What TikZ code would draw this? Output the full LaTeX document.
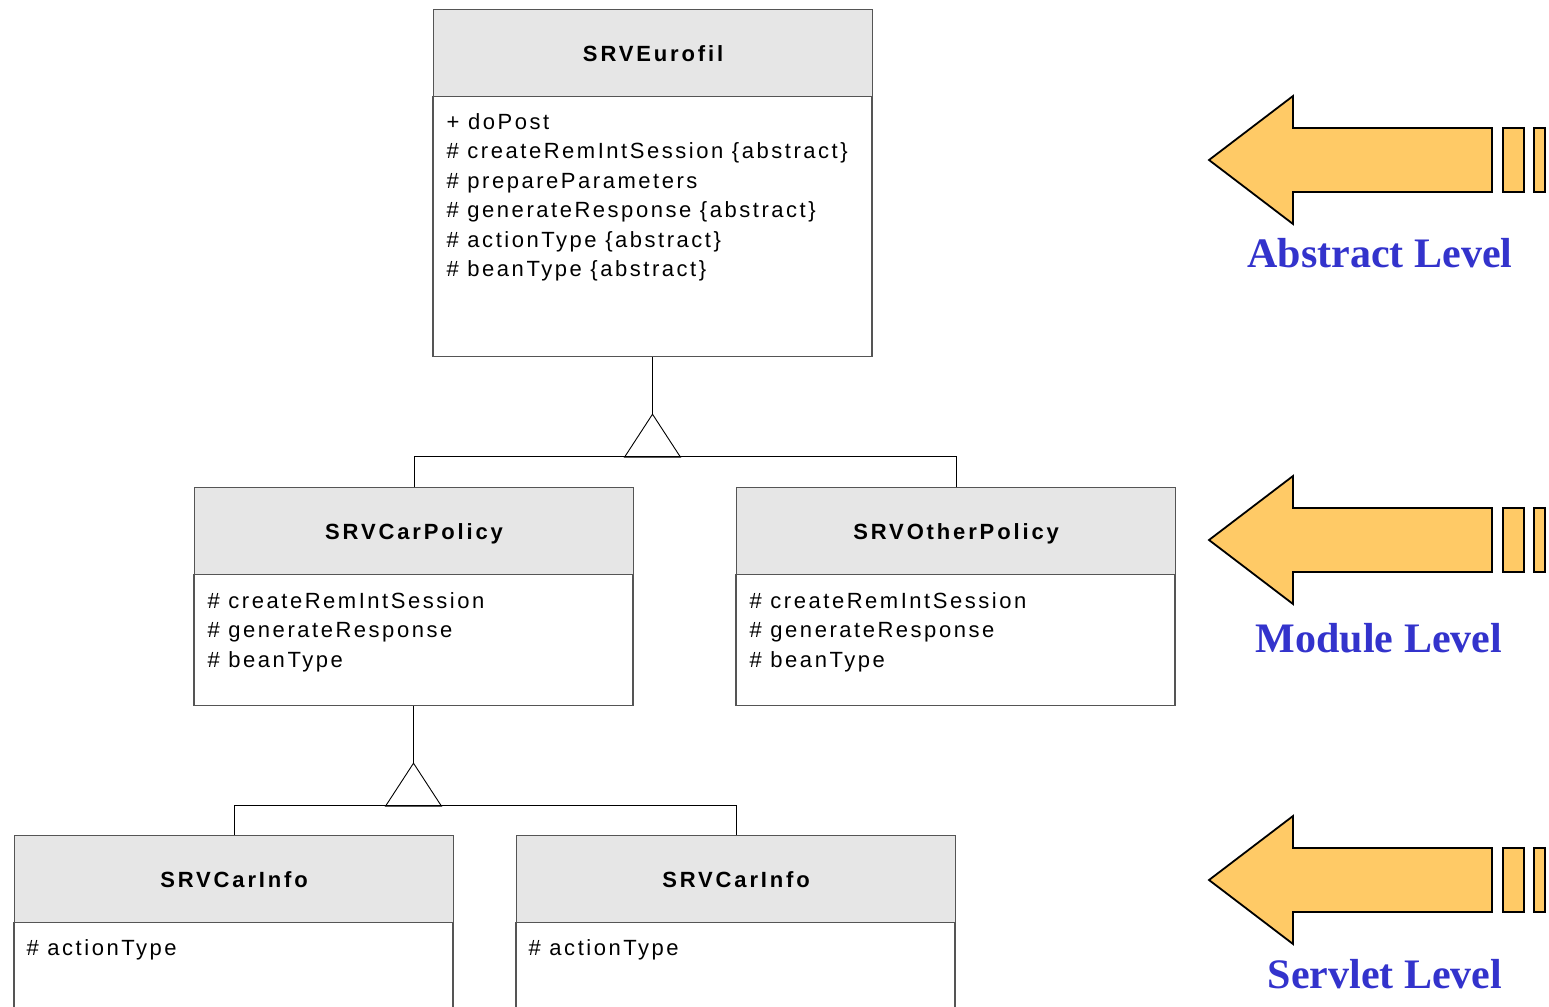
\documentclass[tikz,border=0pt]{standalone}
\usepackage{fontspec}
\newfontfamily\umlfont[LetterSpace=11.5, BoldFeatures={LetterSpace=13}]{Liberation Sans}
\newfontfamily\levelfont{Liberation Serif}
\usetikzlibrary{calc}
\definecolor{hdrgray}{HTML}{E6E6E6}
\definecolor{boxline}{HTML}{555555}
\definecolor{arrowyellow}{HTML}{FFCA66}
\definecolor{levelblue}{HTML}{3333CC}
\newcommand\levelarrow[1]{%
  \begin{scope}[shift={(0,#1)}]
    \draw[bigarrow] (1209,0) -- (1293,-64) -- (1293,-32) -- (1492,-32) -- (1492,32) -- (1293,32) -- (1293,64) -- cycle;
    \draw[bigarrow] (1503,-32) rectangle (1524,32);
    \draw[bigarrow] (1534,-32) rectangle (1545,32);
  \end{scope}}
\begin{document}
\begin{tikzpicture}[x=1pt,y=-1pt,
  hdr/.style={draw=boxline, line width=1.2pt, fill=hdrgray, minimum width=439pt, minimum height=87pt,
    inner sep=0pt, text height=16pt, text depth=0pt, anchor=north west,
    font=\umlfont\bfseries\fontsize{22}{26}\selectfont},
  bodybox/.style={draw=boxline, line width=1.2pt, fill=white, minimum width=439pt, anchor=north, inner sep=0pt},
  member/.style={anchor=base west, inner sep=0pt, font=\umlfont\fontsize{22}{26}\selectfont},
  link/.style={draw=black, line width=0.9pt},
  level/.style={anchor=base, inner sep=0pt, text=levelblue, font=\levelfont\bfseries\fontsize{42}{50}\selectfont},
  bigarrow/.style={draw=black, line width=1.8pt, fill=arrowyellow, line join=miter}]
\useasboundingbox (0,0) rectangle (1549,1006);
\clip (0,0) rectangle (1549,1006);

% ---------- SRVEurofil ----------
\node[bodybox, minimum height=260pt] (eurb) at (652.5,96) {};
\node[hdr] (eur) at (433,9) {SRVEurofil};
\node[member] (eur1) at ([shift={(14,33)}]eurb.north west) {+ doPost};
\node[member] (eur2) at ([shift={(14,62.5)}]eurb.north west) {\# createRemIntSession \{abstract\}};
\node[member] (eur3) at ([shift={(14,92)}]eurb.north west) {\# prepareParameters};
\node[member] (eur4) at ([shift={(14,121.5)}]eurb.north west) {\# generateResponse \{abstract\}};
\node[member] (eur5) at ([shift={(14,151)}]eurb.north west) {\# actionType \{abstract\}};
\node[member] (eur6) at ([shift={(14,180.5)}]eurb.north west) {\# beanType \{abstract\}};

% ---------- SRVCarPolicy ----------
\node[bodybox, minimum height=131pt] (carb) at (413.5,574) {};
\node[hdr] (car) at (194,487) {SRVCarPolicy};
\node[member] (car1) at ([shift={(14,34)}]carb.north west) {\# createRemIntSession};
\node[member] (car2) at ([shift={(14,63.5)}]carb.north west) {\# generateResponse};
\node[member] (car3) at ([shift={(14,93)}]carb.north west) {\# beanType};

% ---------- SRVOtherPolicy ----------
\node[bodybox, minimum height=131pt] (othb) at (955.5,574) {};
\node[hdr] (oth) at (736,487) {SRVOtherPolicy};
\node[member] (oth1) at ([shift={(14,34)}]othb.north west) {\# createRemIntSession};
\node[member] (oth2) at ([shift={(14,63.5)}]othb.north west) {\# generateResponse};
\node[member] (oth3) at ([shift={(14,93)}]othb.north west) {\# beanType};

% ---------- SRVCarInfo (left) ----------
\node[bodybox, minimum height=140pt] (infab) at (233.5,922) {};
\node[hdr] (infa) at (14,835) {SRVCarInfo};
\node[member] (infa1) at ([shift={(13,33)}]infab.north west) {\# actionType};

% ---------- SRVCarInfo (right) ----------
\node[bodybox, minimum height=140pt] (infbb) at (735.5,922) {};
\node[hdr] (infb) at (516,835) {SRVCarInfo};
\node[member] (infb1) at ([shift={(13,33)}]infbb.north west) {\# actionType};

% ---------- generalisations ----------
\coordinate (apex1) at ($(eurb.south)+(0,57)$);
\draw[link] (eurb.south) -- (apex1);
\draw[link] (apex1) -- ++(-28,43) -- ++(56,0) -- cycle;
\draw[link] (car.north) -- ++(0,-31) -| (oth.north);

\coordinate (apex2) at ($(carb.south)+(0,57)$);
\draw[link] (carb.south) -- (apex2);
\draw[link] (apex2) -- ++(-28,43) -- ++(56,0) -- cycle;
\draw[link] (infa.north) -- ++(0,-30) -| (infb.north);

% ---------- level arrows ----------
\levelarrow{160}
\levelarrow{540}
\levelarrow{880}
\node[level] (lvabs) at (1380,267) {Abstract Level};
\node[level] (lvmod) at (1379,652) {Module Level};
\node[level] (lvsrv) at (1385,988) {Servlet Level};
\end{tikzpicture}
\end{document}
